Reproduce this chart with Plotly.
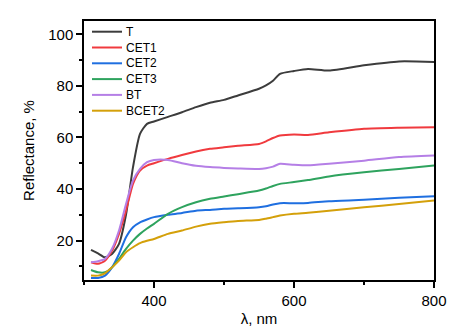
import plotly.graph_objects as go

wl = [310, 320, 330, 340, 350, 360, 370, 380, 390, 400, 420, 440, 460, 480, 500,
      520, 550, 560, 570, 580, 600, 620, 650, 700, 750, 800]

T = [16.4, 15.0, 13.5, 14.8, 18.7, 30.0, 48.5, 61.4, 65.3, 66.2, 68.0, 69.8, 71.8, 73.5, 74.6,
     76.3, 78.9, 80.2, 82.0, 84.7, 85.8, 86.6, 86.0, 88.0, 89.5, 89.3]
CET1 = [11.6, 11.0, 12.2, 16.0, 22.6, 31.6, 42.0, 47.2, 49.1, 50.0, 51.7, 53.2, 54.6, 55.6, 56.2,
        56.8, 57.5, 58.5, 59.8, 60.8, 61.2, 61.0, 62.0, 63.4, 63.8, 64.0]
CET2 = [5.5, 5.5, 6.4, 9.6, 14.8, 21.3, 25.2, 27.1, 28.2, 29.1, 30.0, 30.7, 31.6, 31.9, 32.3,
        32.5, 32.9, 33.3, 34.0, 34.5, 34.5, 34.6, 35.3, 35.8, 36.6, 37.2]
CET3 = [8.6, 7.7, 7.7, 9.6, 12.9, 16.8, 20.0, 22.6, 24.7, 26.5, 30.4, 33.0, 34.9, 36.2, 37.1,
        38.0, 39.4, 40.2, 41.2, 42.0, 42.7, 43.5, 44.9, 46.5, 47.8, 49.1]
BT = [11.6, 12.0, 12.9, 16.8, 23.9, 34.2, 43.3, 47.8, 50.4, 51.3, 51.3, 50.0, 49.0, 48.5, 48.2,
      48.0, 47.8, 48.1, 48.7, 49.8, 49.4, 49.2, 49.8, 51.0, 52.4, 53.0]
BCET2 = [6.4, 6.4, 7.3, 9.6, 12.2, 15.5, 17.4, 19.0, 19.9, 20.6, 22.6, 23.9, 25.4, 26.5, 27.1,
         27.6, 28.0, 28.5, 29.1, 29.7, 30.4, 30.8, 31.6, 32.9, 34.2, 35.5]

names = ["T", "CET1", "CET2", "CET3", "BT", "BCET2"]
values = [T, CET1, CET2, CET3, BT, BCET2]
colors = ["#3c3c3c", "#f03a3e", "#1f6fe0", "#2ea35e", "#b57fe6", "#d4a00a"]

W, H = 467, 336
ML, MR, MT, MB = 84, 33, 21, 56
PW, PH = W - ML - MR, H - MT - MB

fig = go.Figure()
for name, ys, col in zip(names, values, colors):
    fig.add_trace(go.Scatter(x=wl, y=ys, name=name, mode="lines",
                             line=dict(color=col, width=2, shape="spline", smoothing=0.6)))

# compact legend drawn in paper coordinates (row spacing of the original)
shapes, annots = [], []
for i, (name, col) in enumerate(zip(names, colors)):
    py = 31.7 + 15.8 * i
    yp = (H - MB - py) / PH
    shapes.append(dict(type="line", xref="paper", yref="paper",
                       x0=(92 - ML) / PW, x1=(122 - ML) / PW, y0=yp, y1=yp,
                       line=dict(color=col, width=2)))
    annots.append(dict(xref="paper", yref="paper", x=(124 - ML) / PW, y=yp,
                       xanchor="left", yanchor="middle", text=name, showarrow=False,
                       font=dict(size=12, color="black")))

fig.update_layout(
    width=W, height=H,
    margin=dict(l=ML, r=MR, t=MT, b=MB),
    paper_bgcolor="white", plot_bgcolor="white",
    font=dict(family="Liberation Sans, Arial, sans-serif", color="black"),
    showlegend=False,
    shapes=shapes, annotations=annots,
)
fig.update_xaxes(
    range=[300, 800], tickvals=[400, 600, 800],
    showline=True, linecolor="black", linewidth=1.5, mirror=True,
    ticks="outside", ticklen=6, tickwidth=1.5, tickcolor="black",
    minor=dict(tickvals=[300, 500, 700], ticks="outside", ticklen=3, tickwidth=1.5, tickcolor="black"),
    showgrid=False, zeroline=False,
    tickfont=dict(size=15),
    title=dict(text="λ, nm", font=dict(size=15), standoff=6),
)
fig.update_yaxes(
    range=[4.7, 105.2], tickvals=[20, 40, 60, 80, 100],
    showline=True, linecolor="black", linewidth=1.5, mirror=True,
    ticks="outside", ticklen=6, tickwidth=1.5, tickcolor="black",
    minor=dict(tickvals=[10, 30, 50, 70, 90], ticks="outside", ticklen=3, tickwidth=1.5, tickcolor="black"),
    showgrid=False, zeroline=False,
    tickfont=dict(size=15),
    title=dict(text="Reflectance, %", font=dict(size=15), standoff=10),
)

fig.write_html("out.html")
